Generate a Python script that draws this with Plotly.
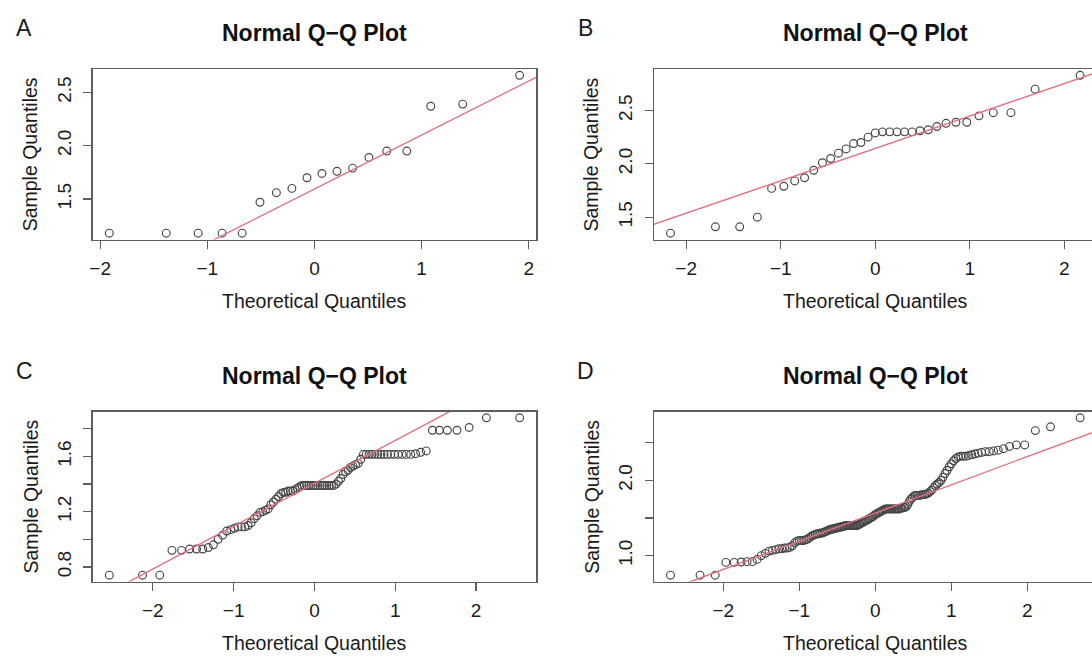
import numpy as np
import plotly.graph_objects as go
from statistics import NormalDist

W, H = 1092, 657

# ---------------- data (sorted sample values) ----------------
panel_labels = ["A", "B", "C", "D"]
title_text = "Normal Q\u2212Q Plot"
x_title = "Theoretical Quantiles"
y_title = "Sample Quantiles"

sample_a = [1.18, 1.18, 1.18, 1.18, 1.18, 1.47, 1.56, 1.60, 1.70, 1.74, 1.76, 1.79,
            1.89, 1.95, 1.95, 2.37, 2.39, 2.66]

sample_b = [1.35, 1.41, 1.41, 1.50, 1.77, 1.79, 1.84, 1.87, 1.94, 2.01, 2.05, 2.10,
            2.14, 2.19, 2.20, 2.25, 2.29, 2.30, 2.30, 2.30, 2.30, 2.30, 2.31, 2.32,
            2.35, 2.38, 2.39, 2.39, 2.45, 2.48, 2.48, 2.70, 2.83]

sample_c = [0.74, 0.74, 0.74,
            0.92, 0.92, 0.93, 0.93, 0.93, 0.94, 0.96,
            1.00, 1.03, 1.06, 1.07, 1.08, 1.09, 1.09, 1.09, 1.10, 1.12,
            1.15, 1.17, 1.195, 1.20, 1.21, 1.22, 1.25, 1.27, 1.29, 1.31,
            1.33, 1.34, 1.34, 1.35, 1.35, 1.35, 1.36, 1.37, 1.38, 1.39,
            1.39, 1.39, 1.39, 1.39, 1.39, 1.39, 1.39, 1.39, 1.39, 1.39, 1.39, 1.39, 1.39, 1.39,
            1.40, 1.42, 1.44, 1.47, 1.49, 1.50, 1.52, 1.53, 1.54, 1.55, 1.58,
            1.615, 1.615, 1.615, 1.615, 1.615, 1.615, 1.615, 1.615, 1.615, 1.615,
            1.615, 1.615, 1.615, 1.615, 1.615,
            1.62, 1.63, 1.64,
            1.79, 1.79, 1.79, 1.79,
            1.81, 1.88, 1.88]

sample_d = [0.74, 0.74, 0.74,
            0.91, 0.91, 0.915, 0.92, 0.92,
            0.95, 1.00, 1.03, 1.06,
            1.07, 1.08, 1.09, 1.09, 1.10, 1.10, 1.11, 1.13,
            1.17, 1.19, 1.20, 1.20, 1.20, 1.21, 1.22, 1.24, 1.26, 1.27,
            1.28, 1.29, 1.29, 1.30, 1.30, 1.31, 1.32, 1.33, 1.34, 1.35,
            1.35, 1.36, 1.36, 1.37, 1.37, 1.38, 1.38, 1.39, 1.39, 1.40,
            1.40, 1.40, 1.40, 1.40, 1.40, 1.40, 1.40, 1.40,
            1.41, 1.42, 1.43, 1.44, 1.45, 1.46, 1.47, 1.48, 1.49, 1.50, 1.51, 1.52,
            1.54, 1.55, 1.56, 1.57, 1.58, 1.59, 1.60, 1.61,
            1.62, 1.62, 1.62, 1.62, 1.62, 1.62, 1.62, 1.62, 1.62, 1.62, 1.62,
            1.63, 1.63, 1.64, 1.64, 1.65,
            1.68, 1.72, 1.75, 1.77, 1.79, 1.80, 1.80, 1.80,
            1.80, 1.81, 1.81, 1.81, 1.82, 1.83, 1.85, 1.87, 1.90, 1.93,
            1.95, 1.97, 2.00, 2.04, 2.09, 2.13, 2.18, 2.22, 2.26, 2.29, 2.31,
            2.32, 2.32, 2.32, 2.33, 2.34, 2.35, 2.36, 2.37, 2.38, 2.38, 2.39,
            2.40, 2.42, 2.45, 2.47, 2.47,
            2.66, 2.71, 2.83]

x_tick_vals = [-2, -1, 0, 1, 2]
x_tick_text = ["\u22122", "\u22121", "0", "1", "2"]
y_tick_vals = {
    "A": [1.5, 2.0, 2.5],
    "B": [1.5, 2.0, 2.5],
    "C": [0.8, 1.0, 1.2, 1.4, 1.6, 1.8],
    "D": [1.0, 1.5, 2.0, 2.5],
}
y_tick_text = {
    "A": ["1.5", "2.0", "2.5"],
    "B": ["1.5", "2.0", "2.5"],
    "C": ["0.8", "", "1.2", "", "1.6", ""],
    "D": ["1.0", "", "2.0", ""],
}
samples = {"A": sample_a, "B": sample_b, "C": sample_c, "D": sample_d}

# ---------------- helpers (R's qqnorm / qqline) ----------------
ND = NormalDist()


def qqnorm_x(n):
    a = 3 / 8 if n <= 10 else 0.5
    return [ND.inv_cdf((i + 1 - a) / (n + 1 - 2 * a)) for i in range(n)]


def r_range(vals):
    lo, hi = min(vals), max(vals)
    d = 0.04 * (hi - lo)
    return lo - d, hi + d


# panel boxes in pixels: (left, right, top, bottom)
cols = [(89.2, 534.0), (652.5, 1096.5)]
rows = [(69.0, 239.5), (411.5, 581.5)]
positions = {"A": (0, 0), "B": (1, 0), "C": (0, 1), "D": (1, 1)}

FONT = "Liberation Sans, Arial, Helvetica, sans-serif"
BOX = "#5e5e5e"
PT = "#454545"
LINE = "#e2707c"
TXT = "#1a1a1a"

fig = go.Figure()
layout = dict(
    width=W, height=H, autosize=False,
    margin=dict(l=0, r=0, t=0, b=0),
    paper_bgcolor="white", plot_bgcolor="white",
    showlegend=False,
    font=dict(family=FONT, color=TXT),
)
annotations = []

for k, key in enumerate(panel_labels):
    ci, ri = positions[key]
    left, right = cols[ci]
    top, bottom = rows[ri]
    ys = samples[key]
    xs = qqnorm_x(len(ys))
    xlo, xhi = r_range(xs)
    ylo, yhi = r_range(ys)
    # clip panels that run past the right page edge
    dom_right = right
    if right > W:
        xhi = xlo + (xhi - xlo) * (W - left) / (right - left)
        dom_right = W
    sfx = "" if k == 0 else str(k + 1)
    xa, ya = "x" + sfx, "y" + sfx

    fig.add_trace(go.Scatter(
        x=xs, y=ys, mode="markers", xaxis=xa, yaxis=ya,
        marker=dict(symbol="circle-open", size=7.8, color=PT, line=dict(width=1.15, color=PT)),
        hoverinfo="skip"))
    # qqline through the quartiles
    q1, q3 = np.quantile(ys, [0.25, 0.75])
    z1, z3 = ND.inv_cdf(0.25), ND.inv_cdf(0.75)
    slope = (q3 - q1) / (z3 - z1)
    icpt = q1 - slope * z1
    lx = [xlo - 1, xhi + 1]
    fig.add_trace(go.Scatter(
        x=lx, y=[icpt + slope * v for v in lx], mode="lines", xaxis=xa, yaxis=ya,
        line=dict(color=LINE, width=1.4), hoverinfo="skip"))

    layout["xaxis" + sfx] = dict(
        domain=[left / W, dom_right / W], anchor=ya, range=[xlo, xhi],
        tickmode="array", tickvals=x_tick_vals, ticktext=x_tick_text,
        ticks="outside", ticklen=8, tickwidth=1.2, tickcolor=BOX,
        showline=True, linecolor=BOX, linewidth=1.5, mirror=True,
        showgrid=False, zeroline=False,
        tickfont=dict(size=19, family=FONT, color=TXT),
        ticklabelstandoff=3,
    )
    layout["yaxis" + sfx] = dict(
        domain=[1 - bottom / H, 1 - top / H], anchor=xa, range=[ylo, yhi],
        tickmode="array", tickvals=y_tick_vals[key], ticktext=y_tick_text[key],
        ticks="outside", ticklen=8, tickwidth=1.2, tickcolor=BOX,
        showline=True, linecolor=BOX, linewidth=1.5, mirror=(right <= W),
        showgrid=False, zeroline=False, tickangle=-90,
        tickfont=dict(size=19, family=FONT, color=TXT),
        ticklabelstandoff=5,
    )

    cx = (left + right) / 2
    cy = (top + bottom) / 2
    # panel letter
    annotations.append(dict(
        text=key, x=(left - 69) / W, y=1 - (top - 41) / H, xref="paper", yref="paper",
        xanchor="center", yanchor="middle", showarrow=False,
        font=dict(size=23, family=FONT, color=TXT)))
    # title
    annotations.append(dict(
        text="<b>" + title_text + "</b>", x=cx / W, y=1 - (top - 36) / H,
        xref="paper", yref="paper", xanchor="center", yanchor="middle", showarrow=False,
        font=dict(size=23, family=FONT, color="#111111")))
    # x title
    annotations.append(dict(
        text=x_title, x=cx / W, y=1 - (bottom + 61) / H,
        xref="paper", yref="paper", xanchor="center", yanchor="middle", showarrow=False,
        font=dict(size=19.5, family=FONT, color=TXT)))
    # y title
    annotations.append(dict(
        text=y_title, x=(left - 63) / W, y=1 - cy / H, textangle=-90,
        xref="paper", yref="paper", xanchor="center", yanchor="middle", showarrow=False,
        font=dict(size=19.5, family=FONT, color=TXT)))

layout["annotations"] = annotations
fig.update_layout(**layout)
fig.write_html("out.html",
               config={"displayModeBar": False, "staticPlot": True},
               post_script="document.body.style.margin='0';document.body.style.overflow='hidden';")
